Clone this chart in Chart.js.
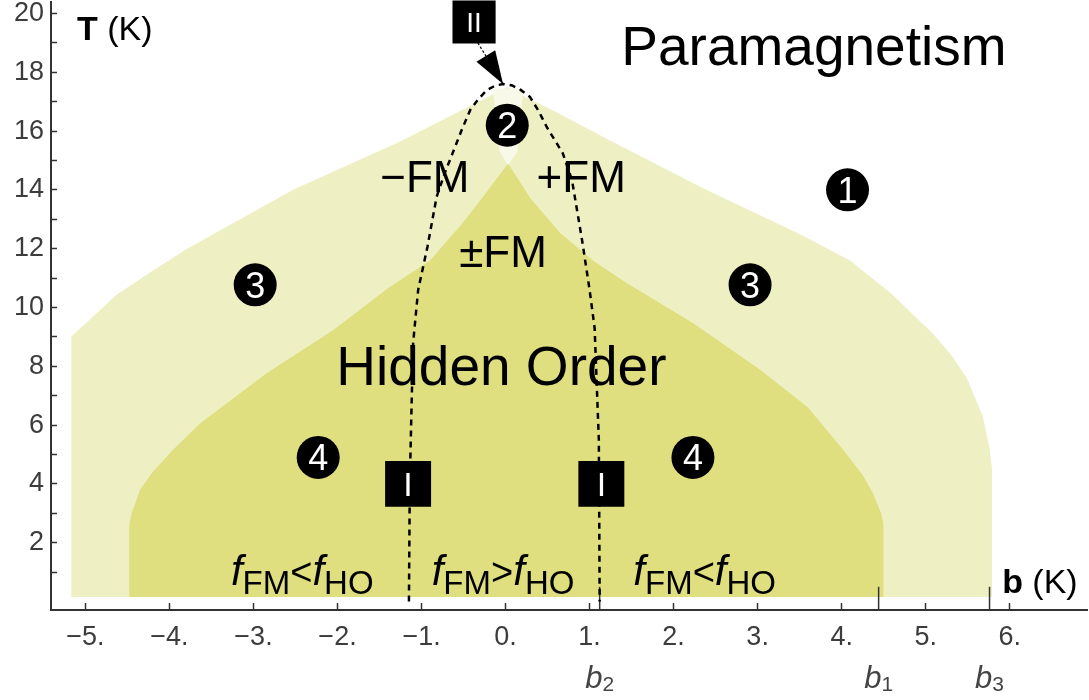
<!DOCTYPE html>
<html><head>
<meta charset="utf-8">
<title>b-T phase diagram</title>
<script src="https://cdn.jsdelivr.net/npm/chart.js@4"></script>
<style>
html, body { margin: 0; padding: 0; background: #fff; }
#wrap { width: 1089px; height: 700px; position: relative; }
</style></head><body>
<div id="wrap"><canvas id="phase"></canvas></div>
<script>
const FONT = '"Liberation Sans", Arial, sans-serif';

// Axis ranges and ticks (b in K along x, T in K along y)
const B_MIN = -5.41, B_MAX = 6.92;
const T_MIN = -0.29, T_MAX = 20.39;
const X_TICKS = [-5, -4, -3, -2, -1, 0, 1, 2, 3, 4, 5, 6];
const Y_TICKS = [1, 2, 3, 4, 5, 6, 7, 8, 9, 10, 11, 12, 13, 14, 15, 16, 17, 18, 19, 20];
const FLOOR_T = 0.15; // lowest temperature of the computed regions

// Outer boundary: any ordered phase (FM or HO)
const OUTER_B = [-5.17, -5.17, -4.63, -4.2, -3.81, -2.53, -1.26, -0.6, -0.18, 0.02, 0.21, 0.6, 1.2, 2.32, 2.91, 3.5, 4.10, 4.6, 5.09, 5.3, 5.49, 5.68, 5.76, 5.79, 5.79];
const OUTER_T = [FLOOR_T, 9.0, 10.43, 11.25, 11.96, 14.0, 15.64, 16.6, 17.2, 17.5, 17.2, 16.65, 15.75, 14.1, 13.3, 12.5, 11.6, 10.45, 9.1, 8.4, 7.6, 6.3, 5.2, 4.5, FLOOR_T];

// Hidden order boundary
const HO_B = [-4.48, -4.48, -4.45, -4.35, -4.2, -3.96, -3.63, -2.84, -2.05, -1.4, -0.9, -0.51, -0.3, 0.03, 0.3, 0.65, 1.04, 1.44, 2.23, 3.03, 3.6, 4.02, 4.25, 4.37, 4.47, 4.5, 4.5];
const HO_T = [FLOOR_T, 2.6, 3.0, 3.8, 4.4, 5.15, 6.07, 7.77, 9.23, 10.65, 11.6, 12.87, 13.65, 14.9, 13.7, 12.53, 11.6, 10.83, 9.47, 7.88, 6.6, 5.15, 4.3, 3.7, 3.0, 2.6, FLOOR_T];

// Narrow paramagnetic wedge between -FM and +FM (region 2)
const LENS_TOP = 17.45;
const LENS_B = [-0.15, -0.07, 0.03, 0.14, 0.21];
const LENS_T = [LENS_TOP, 15.3, 14.85, 15.3, LENS_TOP];

// f_FM = f_HO line
const DASH_B = [-1.15, -1.14, -1.12, -1.10, -1.04, -0.93, -0.82, -0.72, -0.63, -0.52, -0.42, -0.32, -0.22, -0.12, -0.03, 0.08, 0.18, 0.29, 0.39, 0.49, 0.68, 0.79, 0.91, 1.00, 1.06, 1.11, 1.12];
const DASH_T = [0, 4, 6.5, 8.8, 10.6, 12.06, 13.77, 14.6, 15.25, 16.05, 16.72, 17.1, 17.4, 17.55, 17.6, 17.55, 17.4, 17.16, 16.7, 16.14, 15.25, 14.34, 12.3, 10.6, 9.3, 5.5, 0];

// Arrow from marker II to the top of the dashed line
const ARROW_B = [-0.33, -0.03];
const ARROW_T = [19.0, 17.6];

// Numbered circles
const CIRCLE_B = [4.07, 0.02, -2.98, 2.91, -2.23, 2.23];
const CIRCLE_T = [14.0, 16.2, 10.77, 10.77, 4.9, 4.9];
const CIRCLE_NUM = ['1', '2', '3', '3', '4', '4'];

// Square markers I / II
const BOX_B = [-1.16, 1.14, -0.375];
const BOX_T = [4.0, 4.0, 19.71];
const BOX_TXT = ['I', 'I', 'II'];

// Special field values on the b axis
const B_MARKS = [1.12, 4.44, 5.76];
const B_MARK_SUB = ['2', '1', '3'];
const B_MARK_TOP = 0.5;

// Region names
const NOTE_TXT = ['Paramagnetism', 'Hidden Order', '\u2212FM', '+FM', '\u00b1FM'];
const NOTE_B = [3.67, -0.05, -0.96, 0.9, -0.03];
const NOTE_T = [18.25, 7.36, 13.93, 13.93, 11.38];

// f_FM vs f_HO labels along the bottom
const REL_B = [-2.42, -0.03, 2.37];
const REL_SIGN = ['<', '>', '<'];
const REL_T = 0.56;

const COL_OUTER = '#eef0c4';
const COL_HO = '#dfdf80';
const COL_LENS = '#f9f9ea';
const INK = '#000';
const AXIS = '#333';

const pts = (bs, ts) => bs.map((b, i) => ({ x: b, y: ts[i] }));

const datasets = [
  {
    label: 'outer', data: pts(OUTER_B, OUTER_T), order: 10,
    fill: { value: FLOOR_T }, backgroundColor: COL_OUTER,
    borderColor: 'transparent', borderWidth: 0, pointRadius: 0
  },
  {
    label: 'hidden order', data: pts(HO_B, HO_T), order: 9,
    fill: { value: FLOOR_T }, backgroundColor: COL_HO,
    borderColor: 'transparent', borderWidth: 0, pointRadius: 0
  },
  {
    label: 'wedge', data: pts(LENS_B, LENS_T), order: 8,
    fill: { value: LENS_TOP }, backgroundColor: COL_LENS,
    borderColor: 'transparent', borderWidth: 0, pointRadius: 0
  },
  ...B_MARKS.map(b => ({
    label: 'mark', data: [{ x: b, y: T_MIN }, { x: b, y: B_MARK_TOP }], order: 7,
    borderColor: AXIS, borderWidth: 1.5, pointRadius: 0, fill: false
  })),
  {
    label: 'fFM=fHO', data: pts(DASH_B, DASH_T), order: 6,
    borderColor: INK, borderWidth: 2.5, borderDash: [6, 5], pointRadius: 0, fill: false
  },
  {
    label: 'arrow', data: pts(ARROW_B, ARROW_T), order: 5,
    borderColor: INK, borderWidth: 1.2, borderDash: [2.5, 2], pointRadius: 0, fill: false
  },
  {
    label: 'boxes', data: pts(BOX_B, BOX_T), order: 2, showLine: false, clip: false,
    pointStyle: 'rect', pointRadius: [32.5, 32.5, 30.5], backgroundColor: INK, borderWidth: 0
  },
  {
    label: 'circles', data: pts(CIRCLE_B, CIRCLE_T), order: 1, showLine: false, clip: false,
    pointStyle: 'circle', pointRadius: 21.5, backgroundColor: INK, borderWidth: 0
  }
];

// draws a run of differently styled text pieces, centred or left-aligned at (x, y baseline)
function drawRuns(ctx, runs, x, y, align) {
  let w = 0;
  runs.forEach(r => { ctx.font = r.font; r.w = ctx.measureText(r.t).width; w += r.w; });
  let cx = align === 'center' ? x - w / 2 : x;
  ctx.textAlign = 'left';
  ctx.textBaseline = 'alphabetic';
  runs.forEach(r => { ctx.font = r.font; ctx.fillText(r.t, cx, y + (r.dy || 0)); cx += r.w; });
}

const labelPlugin = {
  id: 'phaseLabels',
  afterDatasetsDraw(chart) {
    const { ctx, scales: { x, y } } = chart;
    ctx.save();

    // arrow head
    const p0 = { x: x.getPixelForValue(ARROW_B[0]), y: y.getPixelForValue(ARROW_T[0]) };
    const p1 = { x: x.getPixelForValue(ARROW_B[1]), y: y.getPixelForValue(ARROW_T[1]) };
    const len = Math.hypot(p1.x - p0.x, p1.y - p0.y);
    const ux = (p1.x - p0.x) / len, uy = (p1.y - p0.y) / len;
    const bx = p1.x - ux * 33, by = p1.y - uy * 33;
    ctx.fillStyle = INK;
    ctx.beginPath();
    ctx.moveTo(p1.x, p1.y);
    ctx.lineTo(bx - uy * 11, by + ux * 11);
    ctx.lineTo(bx + uy * 11, by - ux * 11);
    ctx.closePath();
    ctx.fill();

    // numbers in the circles
    ctx.fillStyle = '#fff';
    CIRCLE_NUM.forEach((n, i) => {
      drawRuns(ctx, [{ t: n, font: `36px ${FONT}` }],
        x.getPixelForValue(CIRCLE_B[i]), y.getPixelForValue(CIRCLE_T[i]) + 13, 'center');
    });
    BOX_TXT.forEach((s, i) => {
      const size = s === 'I' ? 34 : 28;
      drawRuns(ctx, [{ t: s, font: `${size}px ${FONT}` }],
        x.getPixelForValue(BOX_B[i]), y.getPixelForValue(BOX_T[i]) + size * 0.36, 'center');
    });

    // region names
    ctx.fillStyle = INK;
    NOTE_TXT.forEach((s, i) => {
      const size = i < 2 ? 55 : 44;
      drawRuns(ctx, [{ t: s, font: `${size}px ${FONT}` }],
        x.getPixelForValue(NOTE_B[i]), y.getPixelForValue(NOTE_T[i]), 'center');
    });

    REL_B.forEach((b, i) => {
      drawRuns(ctx, [
        { t: 'f', font: `italic 42px ${FONT}` },
        { t: 'FM', font: `33px ${FONT}`, dy: 9 },
        { t: REL_SIGN[i], font: `38px ${FONT}` },
        { t: 'f', font: `italic 42px ${FONT}` },
        { t: 'HO', font: `33px ${FONT}`, dy: 9 }
      ], x.getPixelForValue(b), y.getPixelForValue(REL_T), 'center');
    });

    // axis titles
    drawRuns(ctx, [{ t: 'T', font: `bold 34px ${FONT}` }, { t: ' (K)', font: `34px ${FONT}` }],
      x.getPixelForValue(-5.10), y.getPixelForValue(19.1), 'left');
    drawRuns(ctx, [{ t: 'b', font: `bold 34px ${FONT}` }, { t: ' (K)', font: `34px ${FONT}` }],
      x.getPixelForValue(5.91), y.getPixelForValue(0.29), 'left');

    // b1, b2, b3 under the axis
    ctx.fillStyle = '#444';
    B_MARKS.forEach((b, i) => {
      drawRuns(ctx, [
        { t: 'b', font: `italic 31px ${FONT}` },
        { t: B_MARK_SUB[i], font: `21px ${FONT}`, dy: 3 }
      ], x.getPixelForValue(b), y.getPixelForValue(-2.94), 'center');
    });
    ctx.restore();
  }
};

const noPad = s => { s.paddingTop = 0; s.paddingBottom = 0; s.paddingLeft = 0; s.paddingRight = 0; };
const fmtB = v => (v < 0 ? '\u2212' + Math.abs(v) : String(v)) + '.';

new Chart(document.getElementById('phase'), {
  type: 'line',
  data: { datasets },
  plugins: [labelPlugin],
  options: {
    responsive: true, maintainAspectRatio: false, animation: false, events: [],
    layout: { autoPadding: false, padding: { top: 2, right: 2, left: 0, bottom: 0 } },
    plugins: { legend: { display: false }, tooltip: { enabled: false } },
    scales: {
      x: {
        type: 'linear', position: 'bottom', min: B_MIN, max: B_MAX,
        afterBuildTicks: s => { s.ticks = X_TICKS.map(v => ({ value: v })); },
        afterFit: s => { s.height = 90; noPad(s); },
        border: { display: true, color: AXIS, width: 2 },
        grid: { drawOnChartArea: false, drawTicks: true, tickLength: -7, tickColor: AXIS, tickWidth: 1.5 },
        ticks: { autoSkip: false, maxRotation: 0, padding: 18, color: '#3c3c3c',
          font: { size: 27, family: FONT }, callback: v => fmtB(v) }
      },
      y: {
        type: 'linear', position: 'left', min: T_MIN, max: T_MAX,
        afterBuildTicks: s => { s.ticks = Y_TICKS.map(v => ({ value: v })); },
        afterFit: s => { s.width = 51; noPad(s); },
        border: { display: true, color: AXIS, width: 2 },
        grid: { drawOnChartArea: false, drawTicks: true, tickLength: -6, tickColor: AXIS, tickWidth: 1.5 },
        ticks: { autoSkip: false, padding: 13, color: '#3c3c3c',
          font: { size: 27, family: FONT }, callback: v => (v % 2 === 0 ? String(v) : '') }
      }
    }
  }
});
</script></body></html>
